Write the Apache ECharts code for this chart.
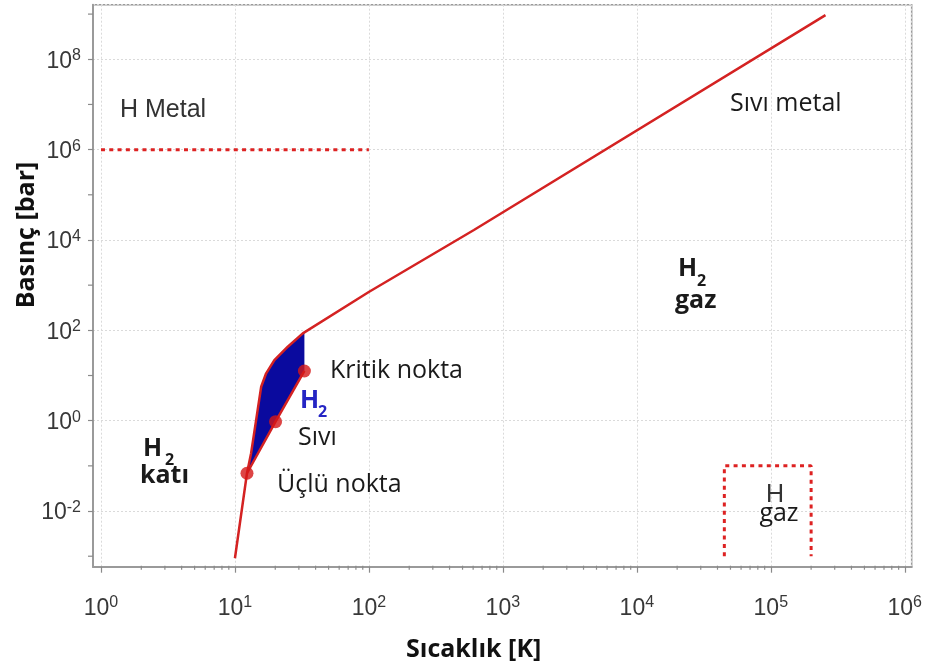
<!DOCTYPE html>
<html><head><meta charset="utf-8">
<script src="https://cdn.jsdelivr.net/npm/echarts@6/dist/echarts.min.js"></script>
<style>html,body{margin:0;padding:0;background:#fff}#c{width:925px;height:671px}</style>
</head><body><div id="c"></div>
<script>
// Axis extents in decades (log10 of K and bar)
const xRange = [-0.0595, 6.0516];
const yRange = [-3.232, 9.208];
const xTickExponents = [0, 1, 2, 3, 4, 5, 6];
const yTickExponents = [-2, 0, 2, 4, 6, 8];
const yMinorExponents = [-3, -1, 1, 3, 5, 7, 9];

// Sublimation + melting curve continuing to the liquid-metal line (T [K], P [bar])
const boundaryT = [10, 12.3, 13.2, 14.4, 15.7, 17.1, 19.7, 24.8, 32.1, 33.0, 100.5, 608, 2.56e5];
const boundaryP = [9.0e-4, 0.0686, 0.19, 1.04, 5.65, 11.2, 22, 43.4, 85.9, 88.5, 715, 1.66e4, 9.46e8];
// Liquid-vapour curve
const vaporT = [12.3, 20.1, 33.0];
const vaporP = [0.0686, 0.95, 12.6];
// Upper edge of the liquid region (melting curve, triple point to Tc)
const liquidTopT = [12.3, 13.2, 14.4, 15.7, 17.1, 19.7, 24.8, 32.1, 33.0];
const liquidTopP = [0.0686, 0.19, 1.04, 5.65, 11.2, 22, 43.4, 85.9, 88.5];
// Marked points: triple point, boiling point, critical point
const pointT = [12.3, 20.1, 33.0];
const pointP = [0.0686, 0.95, 12.6];
// Metallic hydrogen boundary (dotted)
const metalT = [1, 100];
const metalP = [1e6, 1e6];
// Atomic H gas region (dotted, open at the bottom)
const hGasT = [4.5e4, 4.5e4, 2.0e5, 2.0e5];
const hGasP = [1e-3, 0.1, 0.1, 1e-3];

const L = Math.log10;
const pairs = (ts, ps) => ts.map((t, i) => [L(t), L(ps[i])]);

const RED = '#d42222';
const AXIS = '#9a9a9a';

// minor ticks: x at 2..9 x 10^k, y at odd decades
const minorData = [];
for (let k = 0; k < 6; k++) for (let d = 2; d <= 9; d++) minorData.push([0, L(d * Math.pow(10, k))]);
yMinorExponents.forEach(e => minorData.push([1, e]));

function expLabel(list) {
  return function (v) {
    const r = Math.round(v);
    if (Math.abs(v - r) > 1e-6 || list.indexOf(r) < 0) return '';
    return '{b|10}{s|' + r + '}';
  };
}
const labelRich = {
  b: { fontSize: 23, lineHeight: 23, padding: [4, 0, 0, 0], fontFamily: 'Liberation Sans', color: '#383838' },
  s: { fontSize: 16, lineHeight: 16, verticalAlign: 'top', fontFamily: 'Liberation Sans', color: '#383838' }
};

const chart = echarts.init(document.getElementById('c'), null, { renderer: 'canvas' });
const txt = (text, x, y, o) => Object.assign({
  type: 'text', x: x, y: y, z: 100,
  style: Object.assign({ text: text, fill: '#1a1a1a', font: '25px "Open Sans"', align: 'left', verticalAlign: 'middle' }, o || {})
});

chart.setOption({
  animation: false,
  backgroundColor: '#fff',
  grid: { left: 93, right: 11, top: 4.7, bottom: 104.3, show: true, borderColor: AXIS, borderWidth: 1.5, backgroundColor: 'transparent' },
  xAxis: {
    type: 'value', min: xRange[0], max: xRange[1], splitNumber: 6,
    axisLine: { onZero: false, lineStyle: { color: AXIS, width: 2 } },
    axisTick: { length: 6, lineStyle: { color: '#8a8a8a', width: 1.2 } },
    axisLabel: { formatter: expLabel(xTickExponents), rich: labelRich, margin: 28, showMinLabel: false, showMaxLabel: false },
    splitLine: { show: true, lineStyle: { color: '#dadada', type: [2, 2], width: 1 } }
  },
  yAxis: {
    type: 'value', min: yRange[0], max: yRange[1], splitNumber: 6,
    axisLine: { onZero: false, lineStyle: { color: AXIS, width: 2 } },
    axisTick: { length: 5, lineStyle: { color: '#8a8a8a', width: 1.2 } },
    axisLabel: { formatter: expLabel(yTickExponents), rich: labelRich, margin: 12, showMinLabel: false, showMaxLabel: false },
    splitLine: { show: true, lineStyle: { color: '#dadada', type: [2, 2], width: 1 } }
  },
  series: [
    {
      type: 'custom', coordinateSystem: 'cartesian2d', clip: false, silent: true, z: 1,
      data: minorData,
      renderItem: function (params, api) {
        const which = api.value(0), v = api.value(1);
        if (which === 0) {
          const p = api.coord([v, yRange[0]]);
          return { type: 'line', shape: { x1: p[0], y1: p[1] - 1, x2: p[0], y2: p[1] + 3 }, style: { stroke: '#8a8a8a', lineWidth: 1.2 } };
        }
        const p = api.coord([xRange[0], v]);
        return { type: 'line', shape: { x1: p[0] - 5, y1: p[1], x2: p[0], y2: p[1] }, style: { stroke: '#8a8a8a', lineWidth: 1.2 } };
      }
    },
    {
      type: 'custom', coordinateSystem: 'cartesian2d', silent: true, z: 2,
      data: [[L(pointT[0]), L(pointP[0])]],
      renderItem: function (params, api) {
        const pts = pairs(liquidTopT, liquidTopP).concat(pairs(vaporT, vaporP).reverse()).map(p => api.coord(p));
        return { type: 'polygon', shape: { points: pts }, style: { fill: '#0a0a9e', stroke: null } };
      }
    },
    {
      type: 'line', data: pairs(boundaryT, boundaryP), showSymbol: false, silent: true, z: 3,
      lineStyle: { color: RED, width: 2.5 }
    },
    {
      type: 'line', data: pairs(vaporT, vaporP), showSymbol: false, silent: true, z: 3,
      lineStyle: { color: RED, width: 2.5 }
    },
    {
      type: 'scatter', data: pairs(pointT, pointP), symbolSize: 13, silent: true, z: 4,
      itemStyle: { color: '#d41616' }
    },
    {
      type: 'line', data: pairs(metalT, metalP), showSymbol: false, silent: true, z: 3,
      lineStyle: { color: '#dd2222', width: 3, type: [4, 4.3] }
    },
    {
      type: 'line', data: pairs(hGasT, hGasP), showSymbol: false, silent: true, z: 3,
      lineStyle: { color: '#dd2222', width: 3, type: [4, 4.3] }
    }
  ],
  graphic: [
    txt('H Metal', 120, 110, { font: '25px "Liberation Sans"', fill: '#333' }),
    txt('Sıvı metal', 730, 104),
    txt('H', 678, 269, { font: 'bold 25px "Open Sans"' }),
    txt('2', 697, 281, { font: 'bold 16px "Open Sans"' }),
    txt('gaz', 675, 301, { font: 'bold 25px "Open Sans"' }),
    txt('Kritik nokta', 330, 371),
    txt('H', 300, 401, { font: 'bold 25px "Open Sans"', fill: '#2525c4' }),
    txt('2', 318, 412, { font: 'bold 16px "Open Sans"', fill: '#2525c4' }),
    txt('Sıvı', 298, 438),
    txt('Üçlü nokta', 277, 485),
    txt('H', 143, 449, { font: 'bold 25px "Open Sans"' }),
    txt('2', 165, 460, { font: 'bold 16px "Open Sans"' }),
    txt('katı', 140, 476, { font: 'bold 25px "Open Sans"' }),
    txt('H', 775, 495, { font: '25px "Liberation Sans"', fill: '#333', align: 'center' }),
    txt('gaz', 779, 514, { align: 'center' }),
    txt('Sıcaklık [K]', 406, 650, { font: 'bold 25px "Open Sans"', fill: '#111' }),
    Object.assign(txt('Basınç [bar]', 27, 235, { font: 'bold 25px "Open Sans"', fill: '#111', align: 'center' }), { rotation: Math.PI / 2 })
  ]
});
</script>
</body></html>
